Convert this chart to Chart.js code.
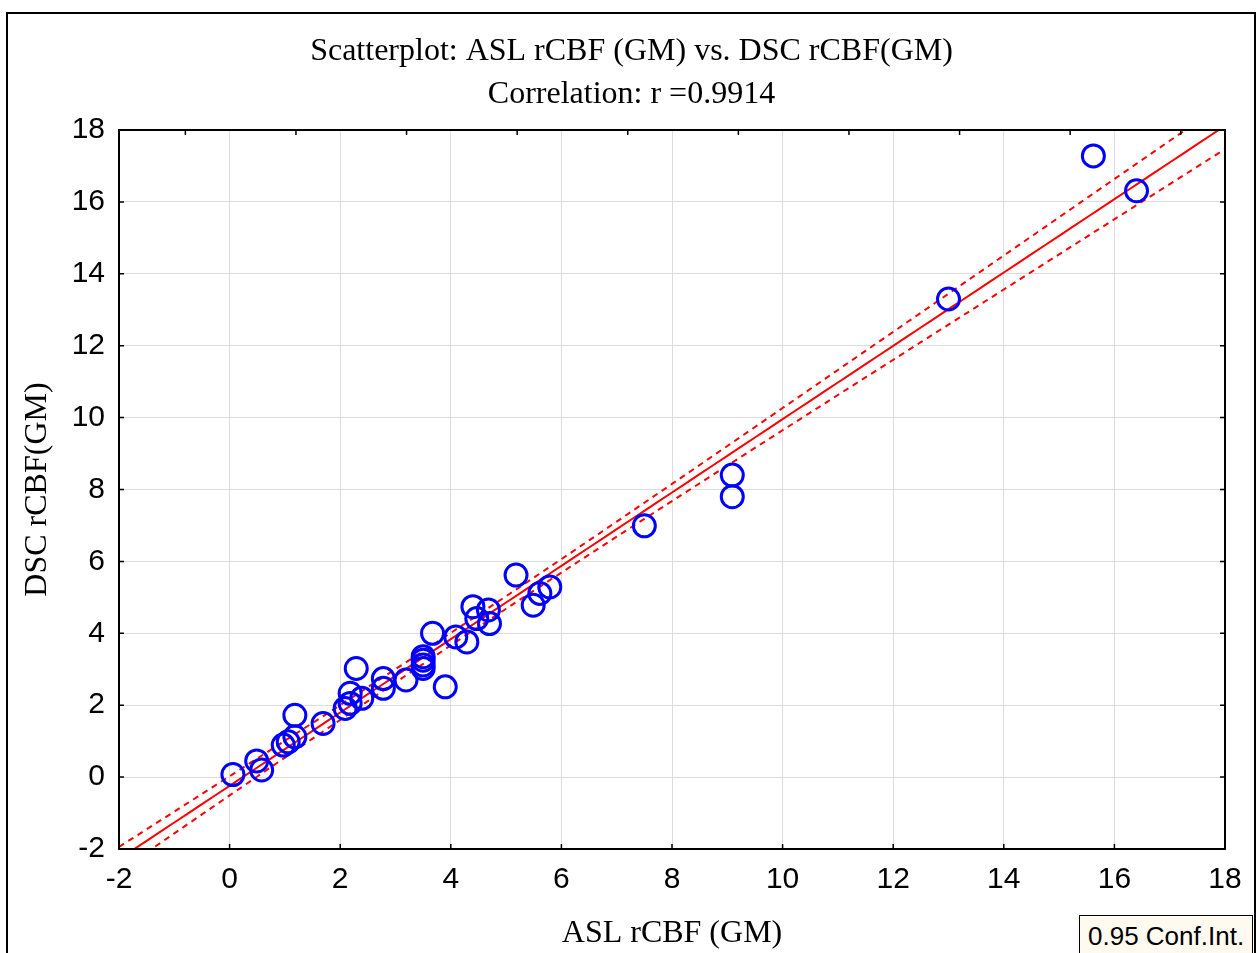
<!DOCTYPE html>
<html>
<head>
<meta charset="utf-8">
<script src="https://cdn.jsdelivr.net/npm/chart.js@4.4.1/dist/chart.umd.min.js"></script>
<style>
  body { margin: 0; background: #fff; overflow: hidden; }
  #wrap { position: relative; width: 1258px; height: 953px; }
  #frame {
    position: absolute; left: 6px; top: 12px; width: 1250px; height: 1000px;
    box-sizing: border-box; border: 2px solid #000; pointer-events: none;
  }
  #ci {
    position: absolute; left: 1079px; top: 915px; width: 174px; height: 60px;
    box-sizing: border-box; border: 1px solid #000; background: #fffaf0;
    font-family: "Liberation Sans", Arial, sans-serif; font-size: 26px;
    padding: 5px 0 0 8px; color: #000; white-space: nowrap;
  }
</style>
</head>
<body>
<div id="wrap">
  <canvas id="myChart" width="1258" height="953"></canvas>
  <div id="frame"></div>
  <div id="ci">0.95 Conf.Int.</div>
</div>
<script>
// ASL vs DSC rCBF, grey matter
var aslGM = [0.06, 0.49, 0.58, 0.97, 1.06, 1.18, 1.18, 1.69, 2.09, 2.18, 2.18, 2.39, 2.29,
  2.78, 2.78, 3.19, 3.50, 3.50, 3.50, 3.50, 3.90, 3.67, 4.09, 4.29, 4.40, 4.47, 4.68, 4.70,
  5.18, 5.49, 5.61, 5.79, 7.50, 9.09, 9.09, 13.0, 15.62, 16.40];
var dscGM = [0.07, 0.45, 0.20, 0.89, 0.98, 1.12, 1.72, 1.49, 1.91, 2.33, 2.05, 2.19, 3.02,
  2.74, 2.47, 2.70, 3.35, 3.25, 3.12, 3.02, 2.51, 4.00, 3.90, 3.76, 4.74, 4.41, 4.65, 4.27,
  5.62, 4.78, 5.11, 5.29, 6.99, 8.40, 7.80, 13.3, 17.28, 16.31];
var axisMin = -2;
var axisMax = 18;
var titleLines = ["Scatterplot: ASL rCBF (GM) vs. DSC rCBF(GM)", "Correlation: r =0.9914"];

// least squares fit + 95% band for the mean
var n = aslGM.length;
var mx = 0, my = 0;
for (var i = 0; i < n; i++) { mx += aslGM[i]; my += dscGM[i]; }
mx /= n; my /= n;
var sxx = 0, sxy = 0;
for (var i = 0; i < n; i++) {
  sxx += (aslGM[i] - mx) * (aslGM[i] - mx);
  sxy += (aslGM[i] - mx) * (dscGM[i] - my);
}
var slope = sxy / sxx;
var icpt = my - slope * mx;
var sse = 0;
for (var i = 0; i < n; i++) {
  var r = dscGM[i] - (icpt + slope * aslGM[i]);
  sse += r * r;
}
var se = Math.sqrt(sse / (n - 2));
var tCrit = 2.028;

var fit = [], upper = [], lower = [];
for (var x = axisMin; x <= axisMax + 1e-9; x += 0.25) {
  var yh = icpt + slope * x;
  var h = tCrit * se * Math.sqrt(1 / n + (x - mx) * (x - mx) / sxx);
  fit.push({ x: x, y: yh });
  upper.push({ x: x, y: yh + h });
  lower.push({ x: x, y: yh - h });
}

var points = [];
for (var i = 0; i < n; i++) points.push({ x: aslGM[i], y: dscGM[i] });

var sans = "'Liberation Sans', Arial, sans-serif";
var serif = "'Liberation Serif', 'Times New Roman', serif";

// frame round the plot area plus short inward tick marks
var framePlugin = {
  id: "framePlugin",
  afterDraw: function (chart) {
    var ctx = chart.ctx, a = chart.chartArea;
    var xs = chart.scales.x, ys = chart.scales.y;
    ctx.save();
    ctx.strokeStyle = "#000";
    ctx.lineWidth = 1.5;
    ctx.beginPath();
    xs.ticks.forEach(function (t) {
      var px = xs.getPixelForValue(t.value);
      ctx.moveTo(px, a.bottom); ctx.lineTo(px, a.bottom - 5);
      var pt = xs.getPixelForValue(t.value + 1.2);
      if (t.value + 1.2 < axisMax) { ctx.moveTo(pt, a.top); ctx.lineTo(pt, a.top + 5); }
    });
    ys.ticks.forEach(function (t) {
      var py = ys.getPixelForValue(t.value);
      ctx.moveTo(a.left, py); ctx.lineTo(a.left + 5, py);
      ctx.moveTo(a.right, py); ctx.lineTo(a.right - 5, py);
    });
    ctx.stroke();
    ctx.lineWidth = 2;
    ctx.strokeRect(a.left, a.top, a.right - a.left, a.bottom - a.top);
    ctx.restore();
  }
};

new Chart(document.getElementById("myChart"), {
  type: "scatter",
  data: {
    datasets: [
      {
        label: "rCBF",
        data: points,
        pointStyle: "circle",
        pointRadius: 11,
        pointBorderWidth: 3,
        pointBorderColor: "#0000ff",
        pointBackgroundColor: "rgba(0,0,0,0)",
        showLine: false,
        order: 0
      },
      {
        label: "fit",
        data: fit,
        showLine: true,
        pointRadius: 0,
        borderColor: "#ff0000",
        borderWidth: 2,
        order: 1
      },
      {
        label: "upper",
        data: upper,
        showLine: true,
        pointRadius: 0,
        borderColor: "#ff0000",
        borderWidth: 2,
        borderDash: [6, 5],
        order: 1
      },
      {
        label: "lower",
        data: lower,
        showLine: true,
        pointRadius: 0,
        borderColor: "#ff0000",
        borderWidth: 2,
        borderDash: [6, 5],
        order: 1
      }
    ]
  },
  options: {
    responsive: false,
    animation: false,
    events: [],
    // left padding keeps the two-line title centred over the plot
    layout: { padding: { left: 38, right: 33, top: 0, bottom: 0 } },
    plugins: {
      legend: { display: false },
      tooltip: { enabled: false },
      title: {
        display: true,
        text: titleLines,
        color: "#000",
        font: { family: serif, size: 32, weight: "normal", lineHeight: 43 / 32 },
        padding: { top: 30, bottom: 14 }
      }
    },
    scales: {
      x: {
        type: "linear",
        min: axisMin,
        max: axisMax,
        ticks: { stepSize: 2, color: "#000", font: { family: sans, size: 30 }, padding: 13, maxRotation: 0 },
        grid: { color: "#dcdcdc", lineWidth: 1, drawTicks: false },
        border: { display: false },
        title: {
          display: true,
          text: "ASL rCBF (GM)",
          color: "#000",
          font: { family: serif, size: 32 },
          padding: { top: 4, bottom: 0 }
        },
        afterFit: function (s) { s.height = 104; }
      },
      y: {
        type: "linear",
        min: axisMin,
        max: axisMax,
        ticks: { stepSize: 2, color: "#000", font: { family: sans, size: 30 }, padding: 14 },
        grid: { color: "#dcdcdc", lineWidth: 1, drawTicks: false },
        border: { display: false },
        title: {
          display: true,
          text: "DSC rCBF(GM)",
          color: "#000",
          font: { family: serif, size: 32 },
          padding: { top: -20, bottom: 0 }
        },
        afterFit: function (s) { s.width = 81; }
      }
    }
  },
  plugins: [framePlugin]
});
</script>
</body>
</html>
